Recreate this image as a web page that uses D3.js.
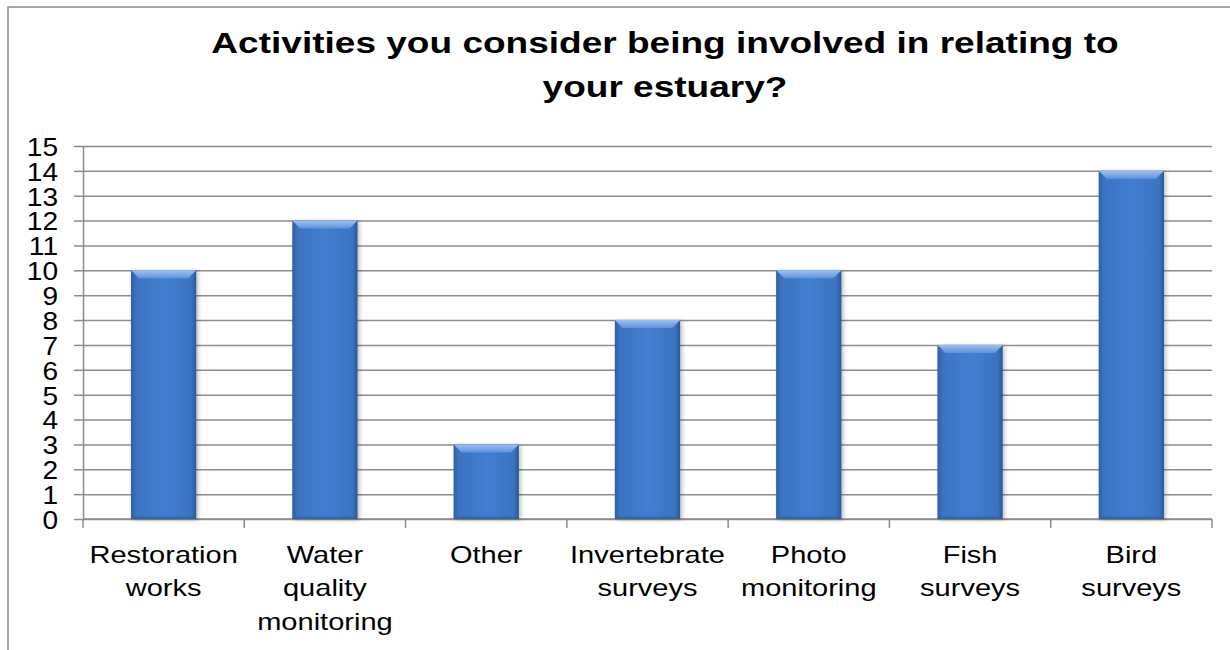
<!DOCTYPE html>
<html>
<head>
<meta charset="UTF-8">
<script src="https://cdnjs.cloudflare.com/ajax/libs/d3/7.8.5/d3.min.js"></script>
<style>
  body { margin: 0; background: #fff; }
  text { font-family: "Liberation Sans", Arial, sans-serif; fill: #000; }
  .grid line { stroke: #8c8c8c; stroke-width: 1.5px; }
  .grid path { stroke-width: 0; }
  .axis path, .axis line { stroke: #8c8c8c; stroke-width: 1.5px; }
</style>
</head>
<body>
<div id="chart"></div>
<script>
// data
var categories = [["Restoration", "works"], ["Water", "quality", "monitoring"], ["Other"],
                  ["Invertebrate", "surveys"], ["Photo", "monitoring"], ["Fish", "surveys"], ["Bird", "surveys"]];
var values = [10, 12, 3, 8, 10, 7, 14];
var yTicks = d3.range(0, 16);
var titleLines = ["Activities you consider being involved in relating to", "your estuary?"];

var width = 1230, height = 650;
var pLeft = 83, pRight = 1212, pTop = 146, pBottom = 519;
var sx = 1.21; // the picture is a bit stretched sideways

var svg = d3.select("#chart").append("svg")
  .attr("width", width).attr("height", height);

var defs = svg.append("defs");
var g1 = defs.append("linearGradient").attr("id", "barFill").attr("x1", 0).attr("x2", 1).attr("y1", 0).attr("y2", 0);
g1.append("stop").attr("offset", "0%").attr("stop-color", "#2d5fa3");
g1.append("stop").attr("offset", "8%").attr("stop-color", "#3b74c2");
g1.append("stop").attr("offset", "50%").attr("stop-color", "#427ecf");
g1.append("stop").attr("offset", "92%").attr("stop-color", "#3b74c2");
g1.append("stop").attr("offset", "100%").attr("stop-color", "#2a5897");
var g2 = defs.append("linearGradient").attr("id", "topFill").attr("x1", 0).attr("x2", 0).attr("y1", 0).attr("y2", 1);
g2.append("stop").attr("offset", "0%").attr("stop-color", "#9cc0ef");
g2.append("stop").attr("offset", "100%").attr("stop-color", "#5f93dc");
var g3 = defs.append("linearGradient").attr("id", "botFill").attr("x1", 0).attr("x2", 0).attr("y1", 0).attr("y2", 1);
g3.append("stop").attr("offset", "0%").attr("stop-color", "#336bb5");
g3.append("stop").attr("offset", "100%").attr("stop-color", "#285290");
var sh = defs.append("filter").attr("id", "shadow").attr("x", "-20%").attr("y", "-5%").attr("width", "150%").attr("height", "115%");
sh.append("feGaussianBlur").attr("in", "SourceAlpha").attr("stdDeviation", 2);
sh.append("feOffset").attr("dx", 2).attr("dy", 1).attr("result", "b");
sh.append("feComponentTransfer").append("feFuncA").attr("type", "linear").attr("slope", 0.25);
var mg = sh.append("feMerge");
mg.append("feMergeNode");
mg.append("feMergeNode").attr("in", "SourceGraphic");

// chart frame
svg.append("rect").attr("x", 8).attr("y", 7).attr("width", 1240).attr("height", 660)
  .attr("fill", "none").attr("stroke", "#8c8c8c").attr("stroke-width", 1.5);

// title
svg.append("g").attr("transform", "translate(665,0) scale(1.235,1)")
  .append("text").attr("text-anchor", "middle").attr("font-weight", "bold").attr("font-size", "30px")
  .selectAll("tspan").data(titleLines).enter().append("tspan")
  .attr("x", 0).attr("y", function(d, i) { return 53 + i * 44; })
  .text(function(d) { return d; });

// scales
var x = d3.scaleBand().domain(d3.range(values.length)).range([pLeft, pRight]).padding(0);
var y = d3.scaleLinear().domain([0, 15]).range([pBottom, pTop]);

// grid
svg.append("g").attr("class", "grid")
  .attr("transform", "translate(" + pLeft + ",0)")
  .call(d3.axisLeft(y).tickValues(yTicks).tickSize(pLeft - pRight).tickFormat(""));

// y axis
var ya = svg.append("g").attr("class", "axis")
  .attr("transform", "translate(" + pLeft + ",0)")
  .call(d3.axisLeft(y).tickValues(yTicks).tickSize(9).tickSizeOuter(0).tickPadding(4));
ya.selectAll(".tick text").attr("font-size", "26px").attr("dy", "0.36em")
  .attr("transform", "translate(-25,0) scale(1.08,1)").attr("x", 0);

// x axis ticks at category boundaries
var bounds = d3.range(values.length + 1).map(function(i) { return pLeft + i * x.step(); });
svg.append("g").attr("class", "axis").selectAll("line").data(bounds).enter().append("line")
  .attr("x1", function(d) { return d; }).attr("x2", function(d) { return d; })
  .attr("y1", pBottom).attr("y2", pBottom + 9);
svg.append("line").attr("x1", pLeft).attr("x2", pRight).attr("y1", pBottom).attr("y2", pBottom)
  .attr("stroke", "#8c8c8c").attr("stroke-width", 1.5);

// bars
var bw = x.step() * 0.405;
var bev = 8, side = 3;
var bars = svg.append("g").selectAll("g").data(values).enter().append("g")
  .attr("transform", function(d, i) { return "translate(" + (x(i) + x.bandwidth() / 2 - bw / 2) + "," + y(d) + ")"; })
  .attr("filter", "url(#shadow)");
bars.append("rect").attr("width", bw).attr("height", function(d) { return pBottom - y(d); }).attr("fill", "url(#barFill)");
bars.append("path").attr("fill", "url(#topFill)")
  .attr("d", "M0,0 L" + bw + ",0 L" + (bw - bev) + "," + bev + " L" + bev + "," + bev + " Z");
bars.append("path").attr("fill", "url(#botFill)").attr("opacity", 0.6)
  .attr("d", function(d) { var h = pBottom - y(d); return "M0," + h + " L" + bw + "," + h + " L" + (bw - side) + "," + (h - side) + " L" + side + "," + (h - side) + " Z"; });

// category labels
var labs = svg.append("g").selectAll("g").data(categories).enter().append("g")
  .attr("transform", function(d, i) { return "translate(" + (x(i) + x.bandwidth() / 2) + ",0) scale(" + sx + ",1)"; })
  .append("text").attr("text-anchor", "middle").attr("font-size", "24px");
labs.selectAll("tspan").data(function(d) { return d; })
  .enter().append("tspan")
  .attr("x", 0)
  .attr("y", function(d, j) { return 563 + j * 33.5; })
  .text(function(d) { return d; });
</script>
</body>
</html>
